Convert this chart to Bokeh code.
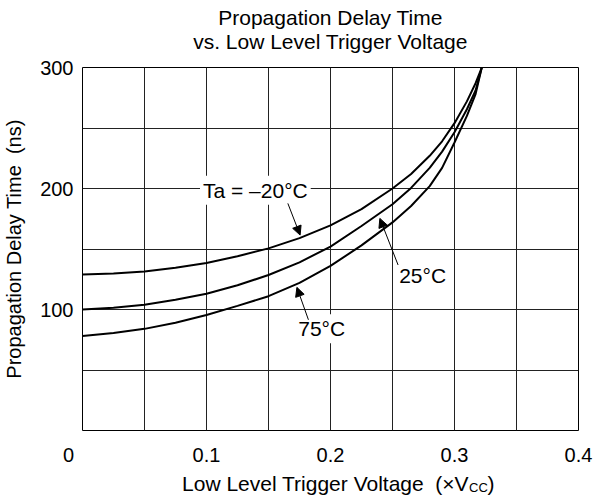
from bokeh.plotting import figure
from bokeh.layouts import column
from bokeh.models import (Label, Arrow, NormalHead, FixedTicker, Range1d)
from bokeh.embed import file_html
from bokeh.resources import INLINE

# ---- data ----
voltage = [0, 0.025, 0.05, 0.075, 0.1, 0.125, 0.15, 0.175, 0.2, 0.225,
           0.25, 0.265, 0.28, 0.29, 0.3, 0.31, 0.317, 0.322]
delay_m20 = [129, 129.8, 131.5, 134.5, 138.5, 144, 150.5, 159, 169.5, 183,
             200, 212, 227, 239, 254, 272, 287, 300]
delay_25 = [100, 101.5, 104, 108, 113, 120, 128.5, 139, 152, 169,
            187, 200.5, 217, 230.5, 246.5, 265.5, 281, 300]
delay_75 = [78, 80.5, 84, 89, 95.5, 103, 111, 122, 136, 153,
            172, 185.5, 202, 217, 238, 260, 278, 300]

x_tick_values = [0, 0.1, 0.2, 0.3, 0.4]
y_tick_values = [100, 200, 300]
x_grid_values = [0.05, 0.1, 0.15, 0.2, 0.25, 0.3, 0.35]
y_grid_values = [50, 100, 150, 200, 250]

title_lines = ["Propagation Delay Time", "vs. Low Level Trigger Voltage"]
x_label_main = "Low Level Trigger Voltage \u00a0(\u00d7V"
x_label_sub = "CC"
x_label_end = ")"
y_label = "Propagation Delay Time \u00a0(ns)"
curve_labels = ["Ta = \u201320\u00b0C", "25\u00b0C", "75\u00b0C"]

FONT = "Liberation Sans"
FS = "20px"
FS_BIG = "21px"
W = 595
LEFT, RIGHT = 81, 17


def strip(height):
    f = figure(width=W, height=height, output_backend="svg",
               toolbar_location=None, x_range=Range1d(0, 0.4),
               y_range=Range1d(0, height), min_border=0,
               min_border_left=LEFT, min_border_right=RIGHT,
               min_border_top=0, min_border_bottom=0,
               x_axis_location=None, y_axis_location=None)
    f.outline_line_color = None
    f.background_fill_color = "white"
    f.border_fill_color = "white"
    f.xgrid.visible = False
    f.ygrid.visible = False
    return f


def text(fig, x, y, s, size=FS_BIG, align="center", xo=0):
    fig.add_layout(Label(x=x, y=y, x_offset=xo, text=s, text_font=FONT,
                         text_font_size=size, text_align=align,
                         text_baseline="middle", text_color="black"))


# ---- title strip ----
p0 = strip(54)
text(p0, 0.2, 37.2, title_lines[0])
text(p0, 0.2, 13.5, title_lines[1])

# ---- main chart ----
p = figure(width=W, height=414, output_backend="svg", toolbar_location=None,
           x_range=p0.x_range, y_range=Range1d(0, 300),
           min_border_left=LEFT, min_border_right=RIGHT,
           min_border_top=13, min_border_bottom=37)
p.background_fill_color = "white"
p.border_fill_color = "white"
p.outline_line_color = "black"
p.outline_line_width = 1

p.xaxis.ticker = FixedTicker(ticks=x_tick_values)
p.xaxis.major_label_overrides = {0: "0" + "\u00a0" * 5}
p.yaxis.ticker = FixedTicker(ticks=y_tick_values)
for ax in (p.xaxis[0], p.yaxis[0]):
    ax.axis_line_color = None
    ax.major_tick_line_color = None
    ax.minor_tick_line_color = None
    ax.major_tick_out = 0
    ax.major_tick_in = 0
    ax.minor_tick_out = 0
    ax.minor_tick_in = 0
    ax.major_label_text_font = FONT
    ax.major_label_text_font_size = FS
    ax.major_label_text_color = "black"
p.xaxis.major_label_standoff = 13
p.yaxis.major_label_standoff = 9
p.yaxis.axis_label = y_label
p.yaxis.axis_label_text_font = FONT
p.yaxis.axis_label_text_font_size = FS
p.yaxis.axis_label_text_font_style = "normal"
p.yaxis.axis_label_text_color = "black"
p.yaxis.axis_label_standoff = 12

p.xgrid.ticker = FixedTicker(ticks=x_grid_values)
p.ygrid.ticker = FixedTicker(ticks=y_grid_values)
for g in (p.xgrid[0], p.ygrid[0]):
    g.grid_line_color = "#222222"
    g.grid_line_width = 1
    g.grid_line_alpha = 1

for ys in (delay_m20, delay_25, delay_75):
    p.line(voltage, ys, line_color="black", line_width=2)


def add_label(x, y, s):
    p.add_layout(Label(x=x, y=y, text=s, text_font=FONT, text_font_size="21px",
                       text_align="center", text_baseline="middle",
                       text_color="black",
                       background_fill_color="white", background_fill_alpha=1,
                       padding=3))


add_label(0.1394, 198.6, curve_labels[0])
add_label(0.2743, 127.7, curve_labels[1])
add_label(0.1929, 84.1, curve_labels[2])


def add_arrow(x0, y0, x1, y1):
    p.add_layout(Arrow(x_start=x0, y_start=y0, x_end=x1, y_end=y1,
                       line_color="black", line_width=1,
                       end=NormalHead(size=9, fill_color="black",
                                      line_color="black", line_width=1)))


add_arrow(0.1656, 187.7, 0.1755, 161.5)
add_arrow(0.2545, 136.8, 0.2398, 175.3)
add_arrow(0.1822, 91.5, 0.1729, 118.3)

# ---- x axis label strip (subscript drawn as its own text) ----
p2 = strip(32)
p2.x_range = p0.x_range
text(p2, 0.3117, 17, x_label_main, align="right")
text(p2, 0.3117, 13, x_label_sub, size="13px", align="left")
text(p2, 0.3117, 17, x_label_end, align="left", xo=18.5)

layout = column(p0, p, p2, spacing=0)
open("out.html", "w").write(file_html(layout, INLINE))
